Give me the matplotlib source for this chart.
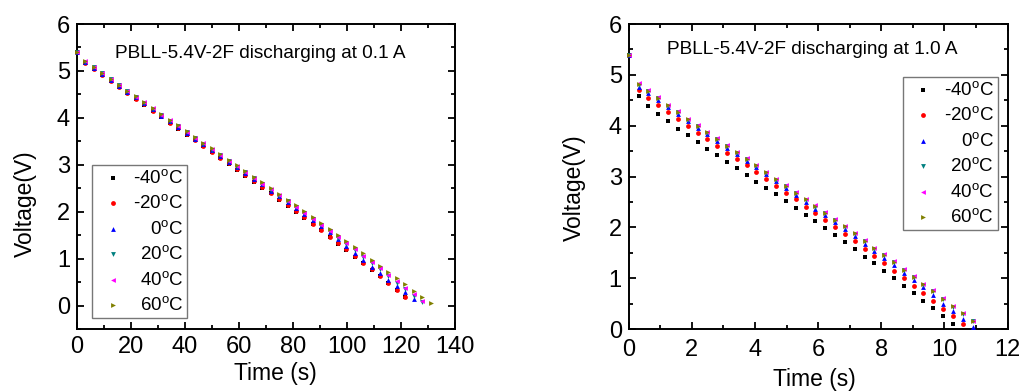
import matplotlib
matplotlib.use('Agg')
import matplotlib.pyplot as plt
from matplotlib.ticker import MultipleLocator

plt.rcParams['font.family'] = ['Liberation Sans', 'DejaVu Sans']
plt.rcParams['mathtext.fontset'] = 'custom'
plt.rcParams['mathtext.rm'] = 'Liberation Sans'
plt.rcParams['mathtext.it'] = 'Liberation Sans:italic'

labels = ['-40$^{\\rm o}$C', '-20$^{\\rm o}$C', '0$^{\\rm o}$C',
          '20$^{\\rm o}$C', '40$^{\\rm o}$C', '60$^{\\rm o}$C']
colors = ['black', 'red', 'blue', '#008080', 'magenta', '#808000']
markers = ['s', 'o', '^', 'v', '<', '>']

# discharge at 0.1 A
t_a = [0, 3.1, 6.2, 9.4, 12.5, 15.6, 18.7, 21.8, 25.0, 28.1, 31.2, 34.3, 37.4, 40.6,
       43.7, 46.8, 49.9, 53.0, 56.2, 59.3, 62.4, 65.5, 68.6, 71.8, 74.9, 78.0, 81.1,
       84.2, 87.4, 90.5, 93.6, 96.7, 99.8, 103.0, 106.1, 109.2, 112.3, 115.4, 118.6,
       121.7, 124.8, 127.9, 131.0]
va_m40 = [5.40, 5.16, 5.04, 4.91, 4.78, 4.65, 4.53, 4.40, 4.28, 4.14, 4.02, 3.89, 3.77,
          3.64, 3.52, 3.39, 3.27, 3.14, 3.02, 2.89, 2.77, 2.64, 2.51, 2.39, 2.26, 2.13,
          2.00, 1.87, 1.73, 1.60, 1.46, 1.32, 1.19, 1.04, 0.90, 0.76, 0.62, 0.48, 0.33,
          0.18]
va_m20 = [5.40, 5.17, 5.05, 4.92, 4.79, 4.66, 4.54, 4.41, 4.29, 4.15, 4.03, 3.90, 3.78,
          3.65, 3.53, 3.40, 3.28, 3.15, 3.03, 2.90, 2.78, 2.65, 2.52, 2.40, 2.27, 2.14,
          2.01, 1.88, 1.74, 1.61, 1.47, 1.33, 1.20, 1.05, 0.91, 0.77, 0.63, 0.49, 0.34,
          0.19]
va_0 = [5.40, 5.19, 5.07, 4.94, 4.81, 4.68, 4.56, 4.44, 4.31, 4.18, 4.05, 3.93, 3.81,
        3.68, 3.56, 3.44, 3.31, 3.19, 3.07, 2.95, 2.82, 2.70, 2.58, 2.45, 2.33, 2.20,
        2.08, 1.95, 1.82, 1.69, 1.56, 1.42, 1.27, 1.12, 0.98, 0.83, 0.69, 0.55, 0.42,
        0.28, 0.14]
va_20 = [5.40, 5.20, 5.08, 4.95, 4.82, 4.69, 4.57, 4.45, 4.32, 4.19, 4.06, 3.94, 3.82,
         3.69, 3.57, 3.45, 3.32, 3.20, 3.08, 2.96, 2.84, 2.71, 2.59, 2.47, 2.34, 2.22,
         2.09, 1.97, 1.84, 1.71, 1.58, 1.45, 1.31, 1.18, 1.04, 0.90, 0.77, 0.63, 0.49,
         0.35, 0.21, 0.08]
va_40 = [5.40, 5.21, 5.08, 4.95, 4.82, 4.69, 4.57, 4.45, 4.33, 4.20, 4.07, 3.95, 3.83,
         3.70, 3.58, 3.46, 3.33, 3.21, 3.09, 2.97, 2.85, 2.72, 2.60, 2.48, 2.35, 2.23,
         2.11, 1.98, 1.85, 1.72, 1.59, 1.46, 1.33, 1.20, 1.06, 0.93, 0.79, 0.66, 0.52,
         0.38, 0.24, 0.10]
va_60 = [5.40, 5.22, 5.09, 4.96, 4.83, 4.70, 4.58, 4.46, 4.34, 4.21, 4.08, 3.96, 3.84,
         3.72, 3.59, 3.47, 3.35, 3.23, 3.11, 2.99, 2.87, 2.75, 2.63, 2.50, 2.38, 2.26,
         2.14, 2.01, 1.88, 1.76, 1.63, 1.50, 1.37, 1.24, 1.11, 0.98, 0.85, 0.72, 0.58,
         0.45, 0.32, 0.19, 0.05]

# discharge at 1.0 A
t_b = [0, 0.31, 0.62, 0.93, 1.24, 1.56, 1.87, 2.18, 2.49, 2.80, 3.11, 3.42, 3.73, 4.04,
       4.36, 4.67, 4.98, 5.29, 5.60, 5.91, 6.22, 6.53, 6.84, 7.16, 7.47, 7.78, 8.09,
       8.40, 8.71, 9.02, 9.33, 9.64, 9.96, 10.27, 10.58, 10.89]
vb_m40 = [5.40, 4.58, 4.39, 4.23, 4.09, 3.94, 3.81, 3.68, 3.54, 3.42, 3.29, 3.16, 3.03,
          2.90, 2.78, 2.65, 2.51, 2.39, 2.25, 2.13, 1.98, 1.85, 1.71, 1.58, 1.42, 1.30,
          1.15, 1.00, 0.85, 0.71, 0.56, 0.41, 0.25, 0.10]
vb_m20 = [5.40, 4.70, 4.54, 4.40, 4.26, 4.13, 4.00, 3.86, 3.73, 3.60, 3.47, 3.34, 3.22,
          3.08, 2.95, 2.82, 2.68, 2.55, 2.41, 2.28, 2.14, 2.00, 1.86, 1.73, 1.58, 1.44,
          1.30, 1.15, 1.00, 0.85, 0.71, 0.55, 0.39, 0.25, 0.10]
vb_0 = [5.40, 4.77, 4.64, 4.50, 4.36, 4.23, 4.09, 3.96, 3.83, 3.70, 3.57, 3.44, 3.31,
        3.18, 3.04, 2.91, 2.77, 2.64, 2.50, 2.37, 2.24, 2.10, 1.96, 1.82, 1.68, 1.54,
        1.40, 1.26, 1.11, 0.96, 0.82, 0.66, 0.50, 0.35, 0.20, 0.03]
vb_20 = [5.40, 4.81, 4.68, 4.54, 4.39, 4.26, 4.12, 3.99, 3.86, 3.73, 3.60, 3.47, 3.34,
         3.21, 3.07, 2.94, 2.81, 2.67, 2.54, 2.41, 2.28, 2.14, 2.01, 1.87, 1.73, 1.58,
         1.45, 1.31, 1.16, 1.02, 0.87, 0.74, 0.59, 0.44, 0.30, 0.15]
vb_40 = [5.40, 4.83, 4.70, 4.56, 4.41, 4.28, 4.14, 4.01, 3.88, 3.75, 3.62, 3.49, 3.36,
         3.23, 3.09, 2.96, 2.83, 2.69, 2.56, 2.43, 2.30, 2.16, 2.03, 1.89, 1.75, 1.60,
         1.47, 1.33, 1.18, 1.04, 0.89, 0.76, 0.61, 0.46, 0.32, 0.16]
vb_60 = [5.40, 4.82, 4.69, 4.55, 4.40, 4.27, 4.13, 4.00, 3.87, 3.74, 3.61, 3.48, 3.35,
         3.22, 3.08, 2.95, 2.82, 2.68, 2.55, 2.42, 2.29, 2.15, 2.02, 1.88, 1.74, 1.59,
         1.46, 1.32, 1.17, 1.03, 0.88, 0.75, 0.60, 0.45, 0.31, 0.16]

series_a = [va_m40, va_m20, va_0, va_20, va_40, va_60]
series_b = [vb_m40, vb_m20, vb_0, vb_20, vb_40, vb_60]


def style_axes(ax):
    for sp in ax.spines.values():
        sp.set_linewidth(1.4)
    ax.tick_params(which='both', direction='in', top=True, right=True, width=1.3,
                   labelsize=17, pad=5)
    ax.tick_params(which='major', length=5)
    ax.tick_params(which='minor', length=3)


def right_align(fig, leg):
    # markers stay in one column, labels end at the same right edge
    fig.canvas.draw()
    r = fig.canvas.get_renderer()
    col = leg._legend_handle_box.get_children()[0]
    items = col.get_children()
    widths = [it.get_children()[1].get_bbox(r).width for it in items]
    wmax = max(widths)
    for it, w in zip(items, widths):
        da = it.get_children()[0]
        da.width += (wmax - w) * 72.0 / fig.dpi


fig = plt.figure(figsize=(10.24, 3.92), dpi=100)
ax1 = fig.add_axes([0.0752, 0.1607, 0.369, 0.778])
ax2 = fig.add_axes([0.614, 0.1607, 0.370, 0.778])

for v, c, m, lb in zip(series_a, colors, markers, labels):
    ax1.scatter(t_a[:len(v)], v, s=12, c=c, marker=m, linewidths=0, label=lb,
                clip_on=False, zorder=3)
for v, c, m, lb in zip(series_b, colors, markers, labels):
    ax2.scatter(t_b[:len(v)], v, s=12, c=c, marker=m, linewidths=0, label=lb,
                clip_on=False, zorder=3)

ax1.set_xlim(0, 140)
ax1.set_ylim(-0.5, 6)
ax1.xaxis.set_major_locator(MultipleLocator(20))
ax1.xaxis.set_minor_locator(MultipleLocator(10))
ax1.yaxis.set_major_locator(MultipleLocator(1))
ax1.yaxis.set_minor_locator(MultipleLocator(0.5))

ax2.set_xlim(0, 12)
ax2.set_ylim(0, 6)
ax2.xaxis.set_major_locator(MultipleLocator(2))
ax2.xaxis.set_minor_locator(MultipleLocator(1))
ax2.yaxis.set_major_locator(MultipleLocator(1))
ax2.yaxis.set_minor_locator(MultipleLocator(0.5))

for ax in (ax1, ax2):
    style_axes(ax)
    ax.set_xlabel('Time (s)', fontsize=16.5)
    ax.set_ylabel('Voltage(V)', fontsize=16.5)
ax2.tick_params(axis='x', pad=7)

ax1.xaxis.set_label_coords(0.524, -0.108)
ax1.yaxis.set_label_coords(-0.106, 0.41)
ax2.xaxis.set_label_coords(0.491, -0.128)
ax2.yaxis.set_label_coords(-0.113, 0.462)

ax1.text(0.10, 0.905, 'PBLL-5.4V-2F discharging at 0.1 A', transform=ax1.transAxes,
         fontsize=13.7, va='center')
ax2.text(0.10, 0.915, 'PBLL-5.4V-2F discharging at 1.0 A', transform=ax2.transAxes,
         fontsize=13.7, va='center')

leg_kw = dict(fontsize=13.5, frameon=True, fancybox=False, borderaxespad=0,
              handletextpad=0.2, labelspacing=0.4, handlelength=1.8,
              borderpad=0.2, markerscale=1.0)
l1 = ax1.legend(loc='lower left', bbox_to_anchor=(0.04, 0.036), **leg_kw)
l2 = ax2.legend(loc='upper right', bbox_to_anchor=(0.974, 0.826), **leg_kw)
for lg in (l1, l2):
    lg.get_frame().set_edgecolor('#555555')
    lg.get_frame().set_linewidth(1.0)
    right_align(fig, lg)

fig.savefig('out.png', dpi=100)
